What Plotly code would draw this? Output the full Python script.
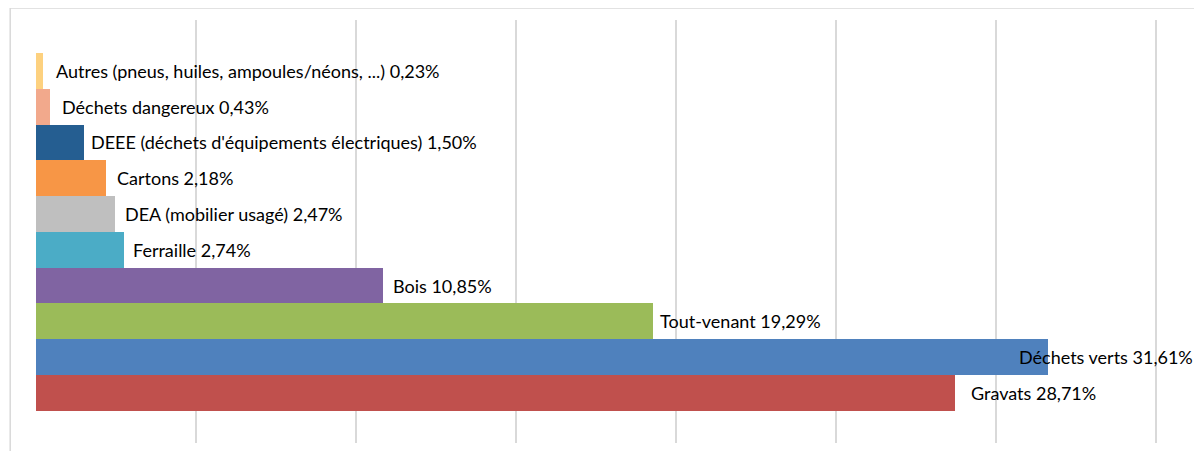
import plotly.graph_objects as go

categories = [
    "Gravats", "Déchets verts", "Tout-venant", "Bois", "Ferraille",
    "DEA (mobilier usagé)", "Cartons", "DEEE (déchets d'équipements électriques)",
    "Déchets dangereux", "Autres (pneus, huiles, ampoules/néons, ...)",
]
values = [28.71, 31.61, 19.29, 10.85, 2.74, 2.47, 2.18, 1.50, 0.43, 0.23]
colors = ["#C0504D", "#4F81BD", "#9BBB59", "#8064A2", "#4BACC6",
          "#BFBFBF", "#F79646", "#255E91", "#F2A98C", "#FDD17F"]
label_shift = [14, -31, 5, 8, 7, 8, 9, 5, 10, 11]

FONT = "Lato, 'Liberation Sans', sans-serif"

fig = go.Figure()
fig.add_trace(go.Bar(
    x=values, y=list(range(len(categories))), orientation="h",
    marker=dict(color=colors, line=dict(width=0)),
    width=1.0, hoverinfo="skip",
))

for i, (c, v) in enumerate(zip(categories, values)):
    txt = c + " " + f"{v:.2f}".replace(".", ",") + "%"
    fig.add_annotation(
        x=v, y=i, xref="x", yref="y", text=txt, showarrow=False,
        xanchor="left", yanchor="middle", xshift=label_shift[i],
        font=dict(family=FONT, size=18, color="#000000"),
    )

# outer chart border
fig.add_shape(type="rect", xref="paper", yref="paper",
              x0=-0.0227, x1=1.2, y0=-0.2, y1=1.0284,
              line=dict(color="#D9D9D9", width=1.5), fillcolor="rgba(0,0,0,0)",
              layer="below")

fig.update_layout(
    width=1194, height=443,
    margin=dict(l=28, r=30, t=12, b=8),
    paper_bgcolor="white", plot_bgcolor="white",
    showlegend=False, bargap=0,
    xaxis=dict(range=[0, 35.5], dtick=5, tick0=0, showgrid=True,
               gridcolor="#D9D9D9", gridwidth=1.5, zeroline=False,
               showticklabels=False, ticks="", showline=False, fixedrange=True),
    yaxis=dict(range=[-1.4, 10.42], showgrid=False, zeroline=False,
               showticklabels=False, ticks="", showline=False, fixedrange=True),
)

fig.write_html("out.html")
